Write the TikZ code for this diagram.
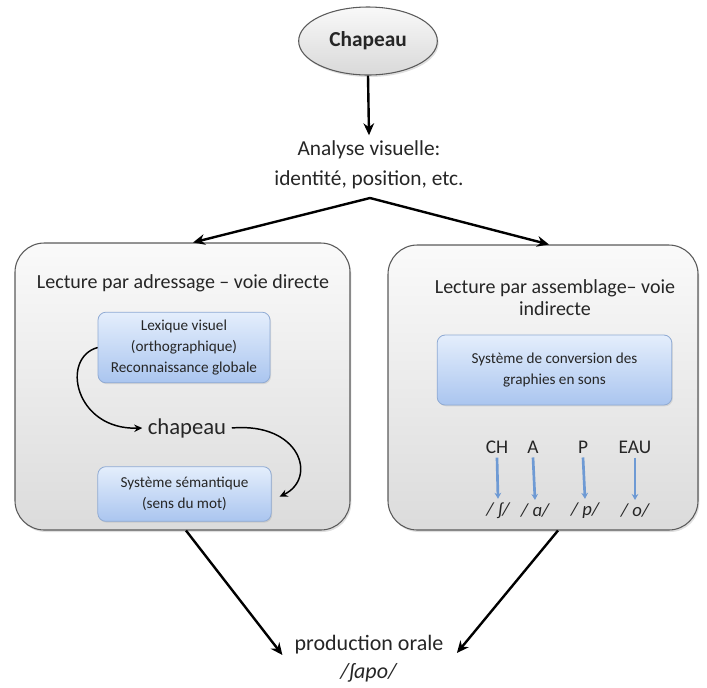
\documentclass[tikz,border=0pt]{standalone}
\usepackage{fontspec}
\setmainfont{Carlito}
\usetikzlibrary{arrows.meta,shapes.geometric,shadows}
\definecolor{boxedge}{HTML}{5A5A5A}
\definecolor{bluetop}{HTML}{E4EEFC}
\definecolor{bluebot}{HTML}{AAC5EF}
\definecolor{blueedge}{HTML}{8FAAD3}
\definecolor{arrblue}{HTML}{6E9AD4}
\definecolor{txt}{HTML}{262626}
\tikzset{
  px/.style={x=0.75pt,y=-0.75pt},
  bigbox/.style={draw=boxedge,line width=0.8pt,rounded corners=22pt,top color=gray!4,bottom color=gray!28,
     drop shadow={shadow xshift=1pt,shadow yshift=-1.5pt,opacity=0.25}},
  bluebox/.style={draw=blueedge,line width=0.6pt,rounded corners=6pt,top color=bluetop,bottom color=bluebot,
     align=center,text=txt,font=\fontsize{11.4pt}{15.5pt}\selectfont,
     drop shadow={shadow xshift=0.8pt,shadow yshift=-1pt,opacity=0.2}},
  blk/.style={-{Stealth[length=9pt,width=8pt]},line width=1.8pt,black},
  thinblk/.style={-{Stealth[length=6pt,width=5.5pt]},line width=1.1pt,black},
  bluearr/.style={-{Stealth[length=4.5pt,width=5pt]},line width=2pt,arrblue},
  lbl/.style={text=txt,align=center,inner sep=0pt},
}
\begin{document}
\begin{tikzpicture}[px]
\useasboundingbox (0,0) rectangle (707,687);
% top ellipse
\node[ellipse,draw=boxedge,line width=0.8pt,top color=gray!5,bottom color=gray!30,
      minimum width=104pt,minimum height=51pt,inner sep=0pt,
      font=\fontsize{16pt}{18pt}\selectfont\bfseries,text=txt,
      drop shadow={shadow xshift=1pt,shadow yshift=-1.5pt,opacity=0.25}] (hat) at (368,41) {Chapeau};
\node[lbl,font=\fontsize{16pt}{22.5pt}\selectfont] (ana) at (369,165) {Analyse visuelle:\\identité, position, etc.};
\coordinate (split) at (370,198);
% big boxes
\node[bigbox,minimum width=251.25pt,minimum height=215.25pt] (left) at (182.5,386.5) {};
\node[bigbox,minimum width=232.5pt,minimum height=213.75pt] (right) at (543,387.5) {};
% left contents
\node[lbl,font=\fontsize{15pt}{18pt}\selectfont] (ltitle) at (183,283) {Lecture par adressage – voie directe};
\node[bluebox,minimum width=129pt,minimum height=53pt] (lex) at (184,347.5) {Lexique visuel\\(orthographique)\\Reconnaissance globale};
\node[lbl,font=\fontsize{17pt}{19pt}\selectfont] (word) at (187,428) {chapeau};
\node[bluebox,minimum width=130pt,minimum height=41pt] (sem) at (184.5,494) {Système sémantique\\(sens du mot)};
\draw[thinblk] (lex.west) .. controls (60,358) and (75,430) .. ([xshift=-4pt]word.west);
\draw[thinblk] ([xshift=4pt]word.east) .. controls (300,422) and (318,478) .. ([xshift=6pt,yshift=-2pt]sem.east);
% right contents
\node[lbl,font=\fontsize{15pt}{16pt}\selectfont] (rtitle) at (555,297.5) {Lecture par assemblage– voie\\indirecte};
\node[bluebox,minimum width=176pt,minimum height=52.5pt] (conv) at (554.5,370) {Système de conversion des\\graphies en sons};
\begin{scope}[every node/.style={lbl,font=\fontsize{14.5pt}{16pt}\selectfont}]
\node (g1) at (497,447) {CH};
\node (g2) at (533,447) {A};
\node (g3) at (583,447) {P};
\node (g4) at (635,447) {EAU};
\end{scope}
\begin{scope}[every node/.style={lbl,font=\fontsize{14pt}{16pt}\selectfont\itshape}]
\node (p1) at (498,511) {/ ʃ/};
\node (p2) at (535,511) {/ ɑ/};
\node (p3) at (585,511) {/ p/};
\node (p4) at (635,511) {/ o/};
\end{scope}
\foreach \i in {1,...,4}{
  \draw[bluearr] ([yshift=-3pt]g\i.south) -- ([yshift=3pt]p\i.north);
}
% bottom
\node[lbl,font=\fontsize{16.5pt}{21pt}\selectfont] (prod) at (369,659) {production orale\\\textit{/ʃapo/}};
% main arrows
\draw[blk] (hat.south) -- ([yshift=4pt]ana.north);
\draw[blk] (split) -- (left.north -| 193,0);
\draw[blk] (split) -- (right.north -| 549,0);
\draw[blk] (left.south -| 186,0) -- ([xshift=-9pt,yshift=3pt]prod.west);
\draw[blk] (right.south -| 558,0) -- ([xshift=10pt,yshift=4.5pt]prod.east);
\end{tikzpicture}
\end{document}
